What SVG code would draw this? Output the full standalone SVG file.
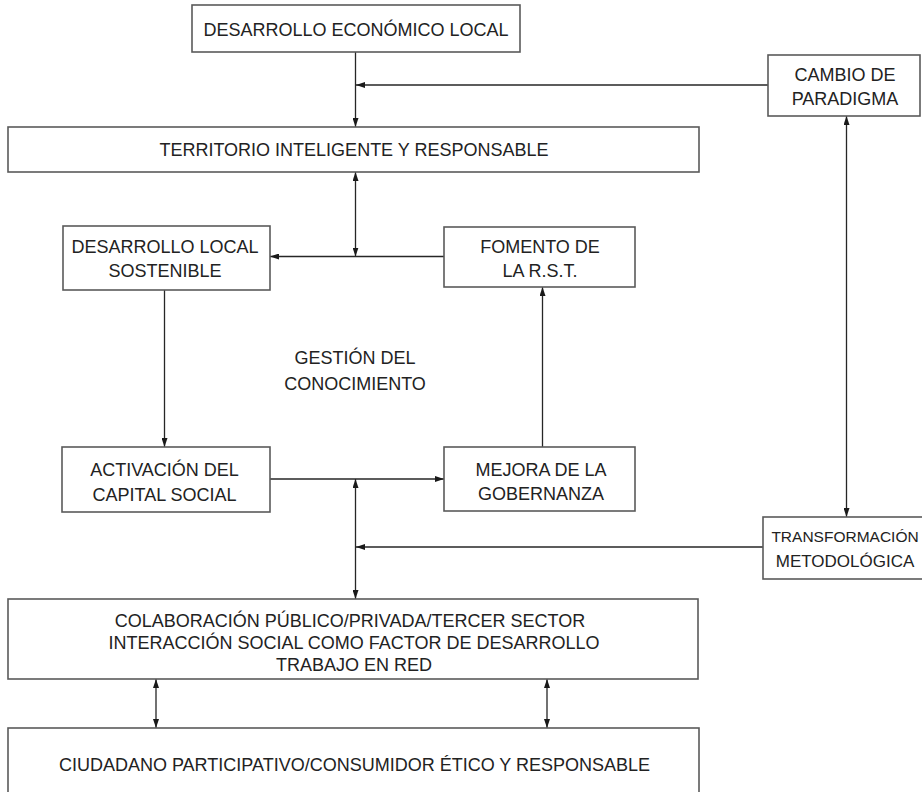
<svg xmlns="http://www.w3.org/2000/svg" width="922" height="792" viewBox="0 0 922 792">
  <style>
    .box { fill: #ffffff; stroke: #5a5a5a; stroke-width: 1.6; }
    .lbl { font-family: "Liberation Sans", Arial, sans-serif; font-size: 18px; fill: #222222; text-anchor: middle; }
    .wire { fill: none; stroke: #262626; stroke-width: 1.3; }
    .one { marker-end: url(#arrow); }
    .two { marker-start: url(#arrow); marker-end: url(#arrow); }
  </style>
  <defs>
    <marker id="arrow" markerUnits="userSpaceOnUse" markerWidth="9" markerHeight="6" refX="9" refY="3" orient="auto-start-reverse">
      <path d="M0,0 L9,3 L0,6 z" fill="#1a1a1a"/>
    </marker>
  </defs>
  <rect width="922" height="792" fill="#ffffff"/>

  <!-- connectors -->
  <g id="connectors">
    <path class="wire one" d="M355.5,52 V127"/>
    <path class="wire one" d="M768,85 H356"/>
    <path class="wire two" d="M355.5,172 V256.5"/>
    <path class="wire one" d="M444,256.5 H270"/>
    <path class="wire one" d="M164.5,290 V447"/>
    <path class="wire one" d="M542.5,447 V287"/>
    <path class="wire one" d="M270,479 H444"/>
    <path class="wire two" d="M355.5,479 V599"/>
    <path class="wire one" d="M763,547 H356"/>
    <path class="wire two" d="M846.5,116 V517"/>
    <path class="wire two" d="M156,679 V728"/>
    <path class="wire two" d="M547,679 V728"/>
  </g>

  <g id="desarrollo-economico">
    <rect class="box" x="192" y="5" width="328" height="47"/>
    <text class="lbl" x="356" y="36">DESARROLLO ECONÓMICO LOCAL</text>
  </g>

  <g id="cambio-paradigma">
    <rect class="box" x="768" y="55" width="152" height="61"/>
    <text class="lbl" x="845" y="81">CAMBIO DE</text>
    <text class="lbl" x="845" y="105">PARADIGMA</text>
  </g>

  <g id="territorio">
    <rect class="box" x="8" y="127" width="691" height="45"/>
    <text class="lbl" x="354" y="156">TERRITORIO INTELIGENTE Y RESPONSABLE</text>
  </g>

  <g id="desarrollo-local">
    <rect class="box" x="63" y="226" width="207" height="64"/>
    <text class="lbl" x="165" y="253">DESARROLLO LOCAL</text>
    <text class="lbl" x="165" y="277">SOSTENIBLE</text>
  </g>

  <g id="fomento-rst">
    <rect class="box" x="444" y="227" width="191" height="60"/>
    <text class="lbl" x="540" y="253">FOMENTO DE</text>
    <text class="lbl" x="540" y="277">LA R.S.T.</text>
  </g>

  <g id="gestion-conocimiento">
    <text class="lbl" x="355" y="364">GESTIÓN DEL</text>
    <text class="lbl" x="355" y="390">CONOCIMIENTO</text>
  </g>

  <g id="activacion-capital">
    <rect class="box" x="62" y="447" width="208" height="65"/>
    <text class="lbl" x="164.5" y="476">ACTIVACIÓN DEL</text>
    <text class="lbl" x="164.5" y="501">CAPITAL SOCIAL</text>
  </g>

  <g id="mejora-gobernanza">
    <rect class="box" x="444" y="447" width="191" height="64"/>
    <text class="lbl" x="541" y="476">MEJORA DE LA</text>
    <text class="lbl" x="541" y="500">GOBERNANZA</text>
  </g>

  <!-- this box runs past the right margin; its label is set smaller to stay visible -->
  <g id="transformacion">
    <rect class="box" x="763" y="517" width="170" height="62"/>
    <text class="lbl" x="845" y="542" style="font-size:15.5px">TRANSFORMACIÓN</text>
    <text class="lbl" x="845" y="567" style="font-size:17px">METODOLÓGICA</text>
  </g>

  <g id="colaboracion">
    <rect class="box" x="8" y="599" width="690" height="80"/>
    <text class="lbl" x="350" y="627">COLABORACIÓN PÚBLICO/PRIVADA/TERCER SECTOR</text>
    <text class="lbl" x="354" y="649">INTERACCIÓN SOCIAL COMO FACTOR DE DESARROLLO</text>
    <text class="lbl" x="354" y="671">TRABAJO EN RED</text>
  </g>

  <g id="ciudadano">
    <rect class="box" x="8" y="728" width="691" height="80"/>
    <text class="lbl" x="354.5" y="771">CIUDADANO PARTICIPATIVO/CONSUMIDOR ÉTICO Y RESPONSABLE</text>
  </g>
</svg>
